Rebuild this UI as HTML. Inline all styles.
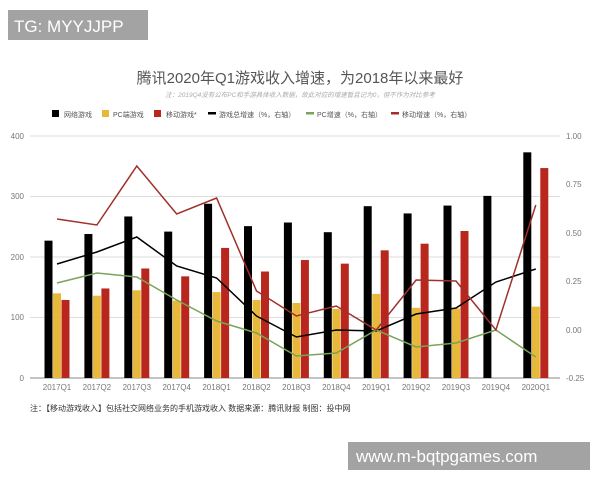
<!DOCTYPE html><html><head><meta charset="utf-8"><style>body{margin:0;width:600px;height:480px;background:#fff;overflow:hidden;font-family:"Liberation Sans","Noto Sans CJK SC",sans-serif}</style></head><body>
<svg width="600" height="480" xmlns="http://www.w3.org/2000/svg" font-family="Liberation Sans, Noto Sans CJK SC, sans-serif">
<rect x="8" y="10" width="140" height="30" fill="#a3a3a3"/>
<text x="14" y="32" font-size="17" fill="#fff">TG: MYYJJPP</text>
<text x="300" y="83" font-size="15" fill="#555" text-anchor="middle">腾讯2020年Q1游戏收入增速，为2018年以来最好</text>
<text x="300" y="97" font-size="6.5" fill="#aaa" font-style="italic" text-anchor="middle">注：2019Q4没有公布PC和手游具体收入数据，故此对应的增速暂且记为0，但不作为对比参考</text>
<g font-size="7" fill="#555">
<rect x="52" y="110" width="7" height="7" fill="#000"/><text x="64" y="117">网络游戏</text>
<rect x="102" y="110" width="7" height="7" fill="#e8b83a"/><text x="113" y="117">PC端游戏</text>
<rect x="154" y="110" width="7" height="7" fill="#b8261e"/><text x="166" y="117">移动游戏*</text>
<rect x="208" y="112" width="8" height="2.5" fill="#000"/><text x="219" y="117">游戏总增速（%，右轴）</text>
<rect x="306" y="112" width="8" height="2.5" fill="#7aa35a"/><text x="317" y="117">PC增速（%，右轴）</text>
<rect x="391" y="112" width="8" height="2.5" fill="#a0302a"/><text x="402" y="117">移动增速（%，右轴）</text>
</g>
<g stroke="#ddd" stroke-width="1">
<line x1="30" y1="136" x2="560" y2="136"/><line x1="30" y1="196.5" x2="560" y2="196.5"/><line x1="30" y1="257" x2="560" y2="257"/><line x1="30" y1="317.5" x2="560" y2="317.5"/>
</g>
<line x1="30" y1="378" x2="560" y2="378" stroke="#888"/>
<g font-size="8" fill="#777">
<text x="24" y="139" text-anchor="end">400</text><text x="24" y="199" text-anchor="end">300</text><text x="24" y="260" text-anchor="end">200</text><text x="24" y="320" text-anchor="end">100</text><text x="24" y="381" text-anchor="end">0</text>
<text x="566" y="139">1.00</text><text x="566" y="236">0.50</text><text x="566" y="284">0.25</text><text x="566" y="333">0.00</text><text x="566" y="381">-0.25</text>
<text x="566" y="187">0.75</text>
</g>
<g id="bars"></g>
<g id="labels" font-size="8" fill="#777" text-anchor="middle"></g>
<polyline id="lb" fill="none" stroke="#000" stroke-width="1.5"/>
<polyline id="lg" fill="none" stroke="#7aa35a" stroke-width="1.5"/>
<polyline id="lr" fill="none" stroke="#a0302a" stroke-width="1.5"/>
<text x="30" y="411" font-size="8" fill="#333">注：【移动游戏收入】包括社交网络业务的手机游戏收入 数据来源：腾讯财报  制图：投中网</text>
<rect x="348" y="442" width="242" height="28" fill="#a3a3a3"/>
<text x="356" y="462" font-size="17" fill="#fff">www.m-bqtpgames.com</text>
</svg>
<script>
var K=[227,238,267,242,288,251,257,241,284,272,285,301,373],Y=[140,136,145,128,142,129,124,114,139,116,115,0,118],R=[129,148,181,168,215,176,195,189,211,222,243,0,347];
var lb=[264,252,237,266,278,316,337,330,331,314,308,282,269],lg=[283,273,277,300,321,333,356,353,330,347,343,330,357],lr=[219,225,166,214,198,291,316,306,330,280,281,330,205];
var lab=["2017Q1","2017Q2","2017Q3","2017Q4","2018Q1","2018Q2","2018Q3","2018Q4","2019Q1","2019Q2","2019Q3","2019Q4","2020Q1"];
var s="",t="",a="",b="",c="";
function r(x,v,col){return v?'<rect x="'+x+'" y="'+(378-v*0.605)+'" width="8" height="'+(v*0.605)+'" fill="'+col+'"/>':''}
for(var i=0;i<13;i++){var cx=57+i*39.9;s+=r(cx-12.5,K[i],"#000")+r(cx-4,Y[i],"#e8b83a")+r(cx+4.5,R[i],"#b8261e");t+='<text x="'+cx+'" y="390">'+lab[i]+'</text>';a+=cx+','+lb[i]+' ';b+=cx+','+lg[i]+' ';c+=cx+','+lr[i]+' ';}
document.getElementById("bars").innerHTML=s;document.getElementById("labels").innerHTML=t;
document.getElementById("lb").setAttribute("points",a);document.getElementById("lg").setAttribute("points",b);document.getElementById("lr").setAttribute("points",c);
</script>
</body></html>
